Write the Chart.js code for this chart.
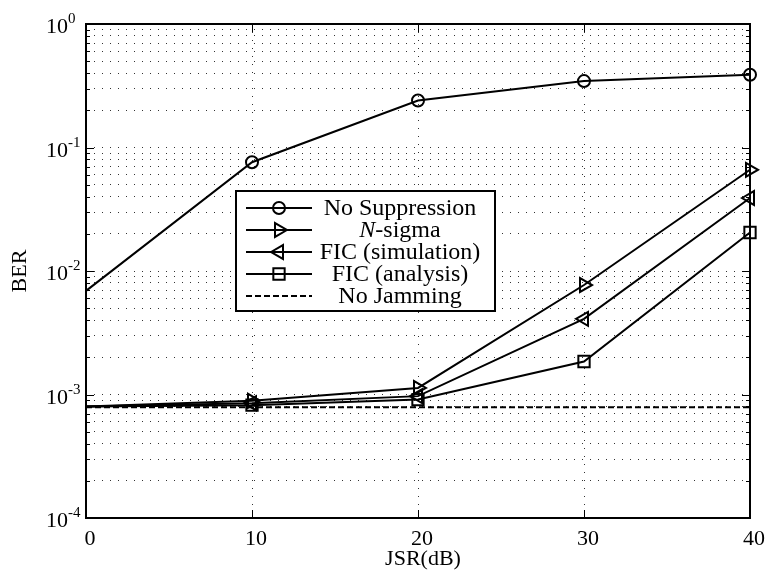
<!DOCTYPE html>
<html>
<head>
<meta charset="utf-8">
<script src="https://cdn.jsdelivr.net/npm/chart.js@4.4.0/dist/chart.umd.min.js"></script>
<style>
    html, body { margin: 0; padding: 0; background: #fff; }
    #wrap { width: 765px; height: 575px; }
</style>
</head>
<body>
<div id="wrap"><canvas id="berChart" width="765" height="575"></canvas></div>
<script>
// --- Data ---
const jsr = [0, 10, 20, 30, 40];
const noSuppression = [0.0069, 0.076, 0.24, 0.345, 0.388];
const nSigma = [0.00080, 0.00089, 0.00113, 0.0077, 0.066];
const ficSimulation = [0.00080, 0.00085, 0.00097, 0.0041, 0.039];
const ficAnalysis = [0.00080, 0.00082, 0.00091, 0.00185, 0.0205];
const noJamming = [0.00079, 0.00079, 0.00079, 0.00079, 0.00079];

const seriesLabels = ['No Suppression', 'N-sigma', 'FIC (simulation)', 'FIC (analysis)', 'No Jamming'];
const italicPrefix = ['', 'N', '', '', ''];
const xTickValues = [0, 10, 20, 30, 40];
const yDecades = [-4, -3, -2, -1, 0];
const xTitle = 'JSR(dB)';
const yTitle = 'BER';

const SERIF = '"Liberation Serif", "DejaVu Serif", serif';

function toPoints(values) {
    return jsr.map((x, i) => ({ x: x, y: values[i] }));
}

// markers start at 10 dB, the 0 dB end is line only
function markerRadius(r) {
    return jsr.map(x => x === 0 ? 0 : r);
}

function makeSeries(label, values, style) {
    return Object.assign({
        label: label,
        data: toPoints(values),
        borderColor: '#000',
        borderWidth: 2,
        backgroundColor: 'rgba(0,0,0,0)',
        pointBackgroundColor: 'rgba(0,0,0,0)',
        pointBorderColor: '#000',
        pointBorderWidth: 2,
        pointHoverRadius: 0,
        tension: 0,
        clip: false
    }, style);
}

const datasets = [
    makeSeries(seriesLabels[0], noSuppression, { pointStyle: 'circle', pointRadius: markerRadius(6), legendRadius: 6 }),
    makeSeries(seriesLabels[1], nSigma, { pointStyle: 'triangle', pointRotation: 90, pointRadius: markerRadius(8), legendRadius: 8 }),
    makeSeries(seriesLabels[2], ficSimulation, { pointStyle: 'triangle', pointRotation: -90, pointRadius: markerRadius(8), legendRadius: 8 }),
    makeSeries(seriesLabels[3], ficAnalysis, { pointStyle: 'rect', pointRadius: markerRadius(8), legendRadius: 8 }),
    makeSeries(seriesLabels[4], noJamming, { borderDash: [6, 3], pointRadius: 0, legendRadius: 0 })
];

// --- MATLAB style frame, inner ticks, labels and legend ---
const matlabFrame = {
    id: 'matlabFrame',
    afterDraw(chart) {
        const ctx = chart.ctx;
        const area = chart.chartArea;
        const xs = chart.scales.x;
        const ys = chart.scales.y;

        ctx.save();
        ctx.strokeStyle = '#000';
        ctx.fillStyle = '#000';
        ctx.setLineDash([]);

        // inner tick marks
        ctx.lineWidth = 1;
        ctx.beginPath();
        ys.ticks.forEach(t => {
            const y = Math.round(ys.getPixelForValue(t.value)) + 0.5;
            const major = Math.abs(Math.log10(t.value) - Math.round(Math.log10(t.value))) < 1e-9;
            const len = major ? 8 : 4;
            ctx.moveTo(area.left, y); ctx.lineTo(area.left + len, y);
            ctx.moveTo(area.right, y); ctx.lineTo(area.right - len, y);
        });
        xTickValues.forEach(v => {
            const x = Math.round(xs.getPixelForValue(v)) + 0.5;
            ctx.moveTo(x, area.bottom); ctx.lineTo(x, area.bottom - 8);
            ctx.moveTo(x, area.top); ctx.lineTo(x, area.top + 8);
        });
        ctx.stroke();

        // box
        ctx.lineWidth = 2;
        ctx.strokeRect(area.left, area.top, area.right - area.left, area.bottom - area.top);

        // x tick labels
        ctx.font = '22px ' + SERIF;
        ctx.textAlign = 'center';
        ctx.textBaseline = 'alphabetic';
        xTickValues.forEach(v => {
            ctx.fillText(String(v), xs.getPixelForValue(v) + 4, area.bottom + 27);
        });

        // y tick labels 10^n
        yDecades.forEach(d => {
            const y = ys.getPixelForValue(Math.pow(10, d));
            ctx.font = '22px ' + SERIF;
            ctx.textAlign = 'right';
            ctx.fillText('10', area.left - 18, y + 9);
            ctx.font = '15px ' + SERIF;
            ctx.textAlign = 'left';
            ctx.fillText(String(d), area.left - 18, y - 1);
        });

        // axis titles
        ctx.font = '22px ' + SERIF;
        ctx.textAlign = 'center';
        ctx.fillText(xTitle, (area.left + area.right) / 2 + 5, area.bottom + 47);
        ctx.save();
        ctx.translate(20, (area.top + area.bottom) / 2);
        ctx.rotate(-Math.PI / 2);
        ctx.textBaseline = 'middle';
        ctx.fillText(yTitle, 0, 0);
        ctx.restore();

        drawLegend(chart, ctx);
        ctx.restore();
    }
};

function drawLegend(chart, ctx) {
    const box = { left: 236, right: 495, top: 191 };
    const rowH = 22;
    const firstRow = box.top + 17;
    const sets = chart.data.datasets;
    const bottom = firstRow + (sets.length - 1) * rowH + 15;

    ctx.fillStyle = '#fff';
    ctx.fillRect(box.left, box.top, box.right - box.left, bottom - box.top);
    ctx.strokeStyle = '#000';
    ctx.lineWidth = 2;
    ctx.setLineDash([]);
    ctx.strokeRect(box.left, box.top, box.right - box.left, bottom - box.top);

    const lineX0 = box.left + 10, lineX1 = box.left + 76;
    const textCenter = 400;
    sets.forEach((ds, i) => {
        const y = firstRow + i * rowH;
        ctx.strokeStyle = '#000';
        ctx.lineWidth = ds.borderWidth;
        ctx.setLineDash(ds.borderDash || []);
        ctx.beginPath();
        ctx.moveTo(lineX0, y);
        ctx.lineTo(lineX1, y);
        ctx.stroke();
        ctx.setLineDash([]);

        if (ds.legendRadius > 0) {
            ctx.fillStyle = 'rgba(0,0,0,0)';
            ctx.lineWidth = ds.pointBorderWidth;
            Chart.helpers.drawPoint(ctx, {
                pointStyle: ds.pointStyle,
                rotation: ds.pointRotation || 0,
                radius: ds.legendRadius,
                borderWidth: ds.pointBorderWidth
            }, (lineX0 + lineX1) / 2, y);
        }

        // label, with an optional italic lead-in
        ctx.fillStyle = '#000';
        ctx.textBaseline = 'middle';
        ctx.textAlign = 'left';
        const label = ds.label;
        const pre = italicPrefix[i];
        const rest = label.slice(pre.length);
        ctx.font = 'italic 24px ' + SERIF;
        const wPre = pre ? ctx.measureText(pre).width : 0;
        ctx.font = '24px ' + SERIF;
        const wRest = ctx.measureText(rest).width;
        let x = textCenter - (wPre + wRest) / 2;
        if (pre) {
            ctx.font = 'italic 24px ' + SERIF;
            ctx.fillText(pre, x, y + 1);
            x += wPre;
        }
        ctx.font = '24px ' + SERIF;
        ctx.fillText(rest, x, y + 1);
    });
}

new Chart(document.getElementById('berChart'), {
    type: 'line',
    data: { datasets: datasets },
    options: {
        responsive: false,
        animation: false,
        events: [],
        layout: { padding: { left: 86, right: 15, top: 24, bottom: 57 } },
        plugins: { legend: { display: false }, tooltip: { enabled: false } },
        scales: {
            x: {
                type: 'linear',
                min: 0,
                max: 40,
                ticks: { display: false, stepSize: 10 },
                grid: { drawTicks: false, color: 'rgba(0,0,0,0.8)', lineWidth: 1 },
                border: { display: false, dash: [1, 7] }
            },
            y: {
                type: 'logarithmic',
                min: 1e-4,
                max: 1,
                afterBuildTicks(scale) {
                    const ticks = [];
                    yDecades.forEach(d => {
                        if (d === 0) { ticks.push({ value: 1 }); return; }
                        for (let m = 1; m <= 9; m++) ticks.push({ value: m * Math.pow(10, d) });
                    });
                    scale.ticks = ticks;
                },
                ticks: { display: false },
                grid: { drawTicks: false, color: 'rgba(0,0,0,0.8)', lineWidth: 1 },
                border: { display: false, dash: [1, 7] }
            }
        }
    },
    plugins: [matlabFrame]
});
</script>
</body>
</html>
